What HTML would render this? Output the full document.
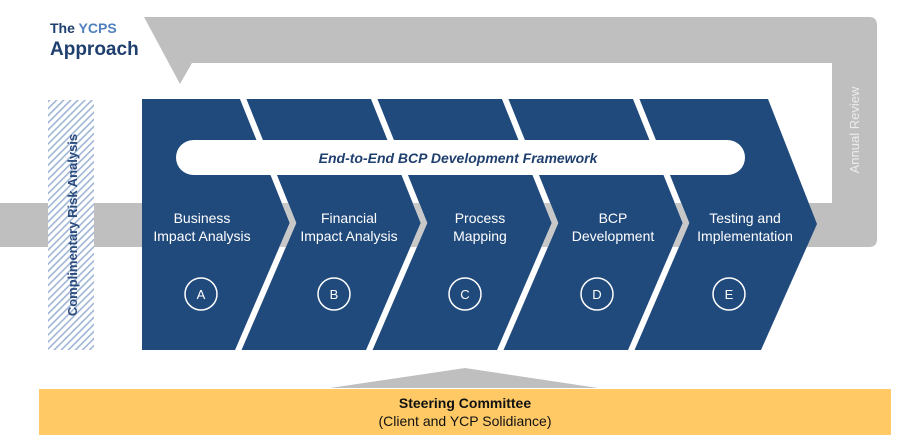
<!DOCTYPE html>
<html><head><meta charset="utf-8"><style>
html,body{margin:0;padding:0;background:#fff;}
svg{display:block;}
text{font-family:"Liberation Sans",Arial,sans-serif;}
</style></head><body>
<svg width="924" height="443" viewBox="0 0 924 443" xmlns="http://www.w3.org/2000/svg">
<defs>
<pattern id="hatch" width="5" height="5" patternUnits="userSpaceOnUse" patternTransform="rotate(45)">
<rect width="5" height="5" fill="#ffffff"/>
<rect x="0" y="0" width="1.6" height="5" fill="#9fb6d6"/>
</pattern>
<clipPath id="band"><rect x="0" y="203" width="924" height="44"/></clipPath>
</defs>
<!-- gray loop -->
<path d="M144,17 H869 Q877,17 877,25 V239 Q877,247 869,247 H0 V203 H832 V63 H192 L180,84 Z" fill="#bfbfbf"/>
<!-- hatch box -->
<rect x="48" y="100" width="46" height="250" fill="url(#hatch)"/>
<text transform="translate(77,225) rotate(-90)" text-anchor="middle" font-size="13" font-weight="bold" fill="#2a4a7c">Complimentary Risk Analysis</text>
<!-- blue chevrons -->
<polygon points="142,99 768,99 817,224 761,350 142,350" fill="#214a7c"/>
<g stroke="#ffffff" stroke-width="6" fill="none">
<polyline points="242,96 293,223 237,353"/>
<polyline points="373,96 424,223 368,353"/>
<polyline points="504,96 555,223 499,353"/>
<polyline points="635,96 686,223 630,353"/>
</g>
<g stroke="#c8c8c8" stroke-width="6" fill="none" clip-path="url(#band)">
<polyline points="242,96 293,223 237,353"/>
<polyline points="373,96 424,223 368,353"/>
<polyline points="504,96 555,223 499,353"/>
<polyline points="635,96 686,223 630,353"/>
</g>
<!-- pill -->
<rect x="176" y="140" width="569" height="35" rx="17.5" fill="#ffffff"/>
<text x="458" y="163" text-anchor="middle" font-size="14" font-weight="bold" font-style="italic" fill="#1f3f6e">End-to-End BCP Development Framework</text>
<!-- labels -->
<g fill="#ffffff" font-size="14" text-anchor="middle">
<text x="202" y="223">Business</text><text x="202" y="241">Impact Analysis</text>
<text x="349" y="223">Financial</text><text x="349" y="241">Impact Analysis</text>
<text x="480" y="223">Process</text><text x="480" y="241">Mapping</text>
<text x="613" y="223">BCP</text><text x="613" y="241">Development</text>
<text x="745" y="223">Testing and</text><text x="745" y="241">Implementation</text>
</g>
<g stroke="#ffffff" stroke-width="1.5" fill="none">
<circle cx="201" cy="294" r="16"/><circle cx="334" cy="294" r="16"/><circle cx="465" cy="294" r="16"/><circle cx="597" cy="294" r="16"/><circle cx="729" cy="294" r="16"/>
</g>
<g fill="#ffffff" font-size="13" text-anchor="middle">
<text x="201" y="299">A</text><text x="334" y="299">B</text><text x="465" y="299">C</text><text x="597" y="299">D</text><text x="729" y="299">E</text>
</g>
<!-- annual review -->
<text transform="translate(859,130) rotate(-90)" text-anchor="middle" font-size="13" fill="#ececec">Annual Review</text>
<!-- title -->
<text x="50" y="33" font-size="14" font-weight="bold" fill="#1f3f6e">The <tspan fill="#4f81bd">YCPS</tspan></text>
<text x="50" y="55" font-size="19" font-weight="bold" fill="#1f3f6e">Approach</text>
<!-- steering -->
<polygon points="330,388 465,368 598,388" fill="#bfbfbf"/>
<rect x="39" y="389" width="852" height="46" fill="#ffca66"/>
<text x="465" y="408" text-anchor="middle" font-size="14" font-weight="bold" fill="#111">Steering Committee</text>
<text x="465" y="426" text-anchor="middle" font-size="14" fill="#111">(Client and YCP Solidiance)</text>
</svg>
</body></html>
